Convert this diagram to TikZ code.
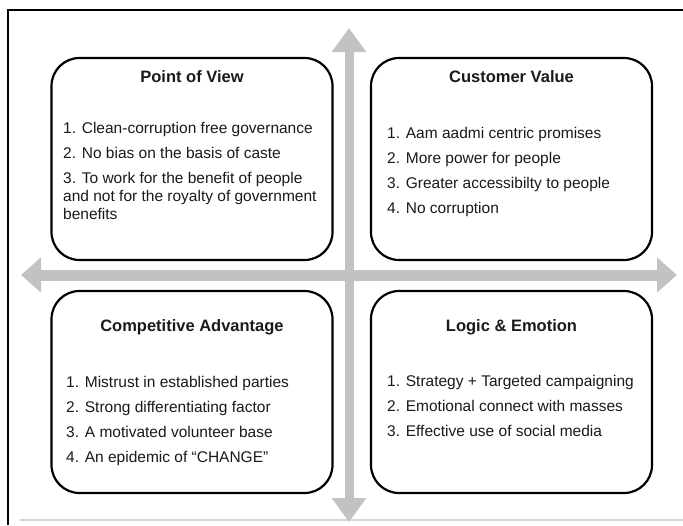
\documentclass[tikz,border=0pt]{standalone}
\usepackage{fontspec}
\setmainfont{Liberation Sans}
\usetikzlibrary{arrows.meta}
\definecolor{axisgray}{HTML}{C2C2C2}
\definecolor{framegray}{HTML}{D6D6D6}
\definecolor{ink}{HTML}{1A1A1A}
\begin{document}
\begin{tikzpicture}[x=1pt,y=-1pt,
  quadbox/.style={draw=black, line width=2.2pt, rounded corners=28pt, fill=white,
    inner sep=0pt, minimum width=281pt, minimum height=202pt},
  quadtitle/.style={font=\fontsize{16.5}{19}\selectfont\bfseries, text=ink, anchor=base, inner sep=0pt},
  quadbody/.style={font=\fontsize{15.5}{18}\selectfont, text=ink, align=left, anchor=north west, inner sep=0pt},
  axisarrow/.style={draw=axisgray, line width=#1},
]
\useasboundingbox (0,0) rectangle (683,525);
% frame
\draw[line width=2.5pt, black] (8,525) -- (8,10) -- (683,10);
\draw[line width=2pt, framegray] (20,520) -- (683,520);
% axes
\coordinate (left) at (21,275);
\coordinate (right) at (677,275);
\coordinate (top) at (349,28);
\coordinate (bottom) at (349,522);
\draw[axisarrow=11pt, {Triangle[width=34pt,length=20pt]}-{Triangle[width=34pt,length=20pt]}, axisgray] (left) -- (right);
\draw[axisarrow=9pt, {Triangle[width=33pt,length=24pt]}-{Triangle[width=33pt,length=24pt]}, axisgray] (top) -- (bottom);
% boxes
\node[quadbox] (pov) at (192,159) {};
\node[quadbox] (cv) at (511.5,159) {};
\node[quadbox] (ca) at (192,392) {};
\node[quadbox] (le) at (511.5,392) {};
% titles
\node[quadtitle] (povt) at (192,82) {Point of View};
\node[quadtitle] (cvt) at (511.5,82) {Customer Value};
\node[quadtitle] (cat) at (192,331) {Competitive Advantage};
\node[quadtitle] (let) at (511.5,331) {Logic \& Emotion};
% bodies
\node[quadbody] (povb) at (63,121.7) {1. Clean-corruption free governance\\[7pt]
2. No bias on the basis of caste\\[7pt]
3. To work for the benefit of people\\
and not for the royalty of government\\
benefits};
\node[quadbody] (cvb) at (387,126.7) {1. Aam aadmi centric promises\\[7pt]
2. More power for people\\[7pt]
3. Greater accessibilty to people\\[7pt]
4. No corruption};
\node[quadbody] (cab) at (66,375.7) {1. Mistrust in established parties\\[7pt]
2. Strong differentiating factor\\[7pt]
3. A motivated volunteer base\\[7pt]
4. An epidemic of “CHANGE”};
\node[quadbody] (leb) at (387,374.7) {1. Strategy + Targeted campaigning\\[7pt]
2. Emotional connect with masses\\[7pt]
3. Effective use of social media};
\end{tikzpicture}
\end{document}
